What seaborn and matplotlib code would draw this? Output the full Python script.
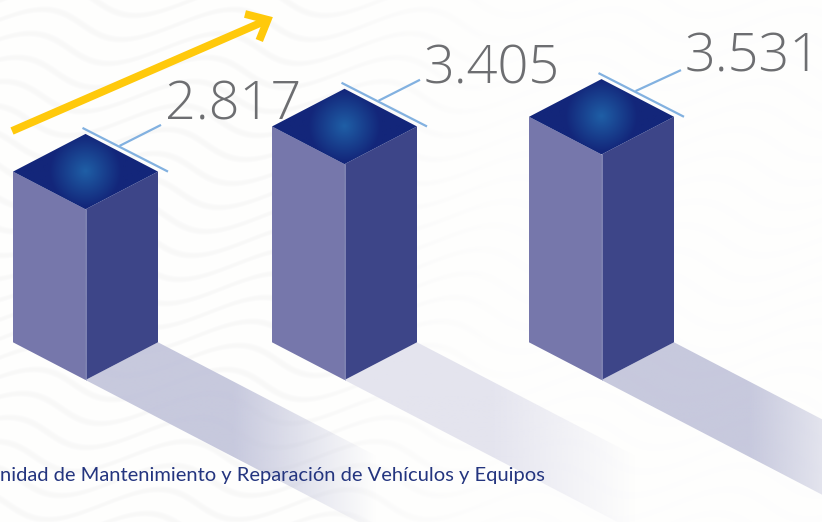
import numpy as np
import pandas as pd
import seaborn as sns
import matplotlib
matplotlib.use("Agg")
import matplotlib.pyplot as plt
from matplotlib.patches import Polygon
from matplotlib.transforms import Affine2D
from matplotlib.colors import to_rgb

# ---- data ----
values = [2817, 3405, 3531]
value_labels = ["2.817", "3.405", "3.531"]
caption = "nidad de Mantenimiento y Reparación de Vehículos y Equipos"

# ---- layout (pixels of the 822x522 picture) ----
W, H = 822, 522
front_x = [85.5, 344.5, 601.5]
half_w = 72.5
ground_py = 380
slope = 0.52
px_per_value = 0.07678
baseline = 594
label_xy = [(165, 119), (424, 84), (685, 72)]
shadow_cols = ["#c4c6dc", "#e3e3ee", "#c4c6dc"]
LEFT, RIGHT = "#7677ab", "#3d4588"

sns.set_theme(style="white")
plt.rcParams["font.family"] = ["Lato", "DejaVu Sans"]

fig = plt.figure(figsize=(W / 100, H / 100), dpi=100, facecolor="#fdfdfc")
ax = fig.add_axes([0, 0, 1, 1])
xlim = (0, W)
ylim = (baseline - (H - ground_py) / px_per_value, baseline + ground_py / px_per_value)
px = Affine2D().scale(1, -1).translate(0, H)   # picture pixels -> display
ax.set_xlim(*xlim); ax.set_ylim(*ylim)

# ---- background waves ----
yy, xx = np.mgrid[0:H, 0:W]
phase = (yy + 15 * np.sin(2 * np.pi * xx / 190.0 + 0.4 * yy / 22)) / 24.0
stripes = np.clip(np.cos(2 * np.pi * phase) - 0.6, 0, None) / 0.4
mask = np.clip((520 - xx) / 230.0, 0.06, 1.0)
bg = 254 - 6.0 * stripes * mask
bg_rgb = np.dstack([bg, bg, bg - 0.6]) / 255
ax.imshow(bg_rgb, extent=(0, W, H, 0), transform=px, aspect="auto", zorder=0, interpolation="bilinear")

# ---- shadows ----
for fx, col in zip(front_x, shadow_cols):
    sl = 340
    pts = [(fx, ground_py), (fx + half_w, ground_py - half_w * slope),
           (fx + half_w + sl, ground_py - half_w * slope + sl * slope), (fx + sl, ground_py + sl * slope)]
    x0, x1 = fx, fx + half_w + sl
    y0, y1 = ground_py - half_w * slope, ground_py + sl * slope
    n = int(x1 - x0)
    alpha = np.clip((fx + 290 - np.linspace(x0, x1, n)) / (290 - 147), 0, 1)
    rgba = np.ones((2, n, 4))
    rgba[..., :3] = to_rgb(col)
    rgba[..., 3] = alpha * 0.95
    im = ax.imshow(rgba, extent=(x0, x1, y1, y0), transform=px, aspect="auto", zorder=1, interpolation="bilinear")
    im.set_clip_path(Polygon(pts, closed=True, transform=px))

# ---- bars: two seaborn bar layers, sheared into isometric faces ----
shear = slope / px_per_value
heights = [v - baseline for v in values]
for sign, color in ((-1, LEFT), (1, RIGHT)):
    centers = [fx + sign * half_w / 2 for fx in front_x]
    df = pd.DataFrame({"pos": centers, "height": heights})
    native = np.min(np.diff(centers))
    n_before = len(ax.patches)
    sns.barplot(data=df, x="pos", y="height", native_scale=True, width=half_w / native,
                color=color, saturation=1, errorbar=None, bottom=baseline, ax=ax,
                linewidth=0, zorder=3)
    for patch, fx in zip(ax.patches[n_before:], front_x):
        k = sign * shear
        patch.set_transform(Affine2D.from_values(1, k, 0, 1, 0, -k * fx) + ax.transData)
        patch.set_zorder(3)
ax.set_xlim(*xlim); ax.set_ylim(*ylim)
ax.set_axis_off()

def py_of(v):
    return H - ax.transData.transform((0, v))[1]

# ---- top faces, leaders and labels ----
c_in, c_out = np.array(to_rgb("#1f5fa6")), np.array(to_rgb("#13267a"))
for fx, v, lab, (lx, ly) in zip(front_x, values, value_labels, label_xy):
    pf = py_of(v)
    rise = half_w * slope
    xl, xr = fx - half_w, fx + half_w
    pb = pf - 2 * rise
    pm = pf - rise
    diamond = [(fx, pf), (xr, pm), (fx, pb), (xl, pm)]
    gy, gx = np.mgrid[pb:pf:80j, xl:xr:146j]
    t = np.clip(np.hypot(gx - fx, gy - pm) / 36.0, 0, 1)[..., None]
    img = c_in * (1 - t) + c_out * t
    im = ax.imshow(img, extent=(xl, xr, pf, pb), transform=px, aspect="auto", zorder=4, interpolation="bilinear")
    im.set_clip_path(Polygon(diamond, closed=True, transform=px))
    # light seam between the faces
    ax.plot([fx, fx], [pf, ground_py], transform=px, color="#9c9ec6", lw=0.5, zorder=4)
    # leader lines
    leader = "#82b1e0"
    ax.plot([fx - 3, xr + 10], [pb - 6, pm], transform=px, color=leader, lw=1.6, zorder=5, solid_capstyle="butt")
    ax.plot([fx + 34, lx - 4], [pb + 12, pb - 9], transform=px, color=leader, lw=1.6, zorder=5, solid_capstyle="butt")
    ax.text(lx, ly, lab, transform=px, color="#6d6e71", fontsize=39, family=["Open Sans", "DejaVu Sans"],
            fontweight="light", ha="left", va="baseline", zorder=6)

# ---- trend arrow ----
yel = "#ffc90b"
ax.plot([12, 266], [131, 20.5], transform=px, color=yel, lw=5.6, solid_capstyle="butt", zorder=6)
ax.plot([245, 267.6, 259.3], [14, 19.8, 40.5], transform=px, color=yel, lw=5.6, solid_joinstyle="miter",
        solid_capstyle="butt", zorder=6)

# ---- caption ----
ax.text(0, 481, caption, transform=px, color="#24357f", fontsize=14.5, ha="left", va="baseline", zorder=6)

ax.set_xlim(*xlim); ax.set_ylim(*ylim)
fig.savefig("out.png", dpi=100, facecolor=fig.get_facecolor())
